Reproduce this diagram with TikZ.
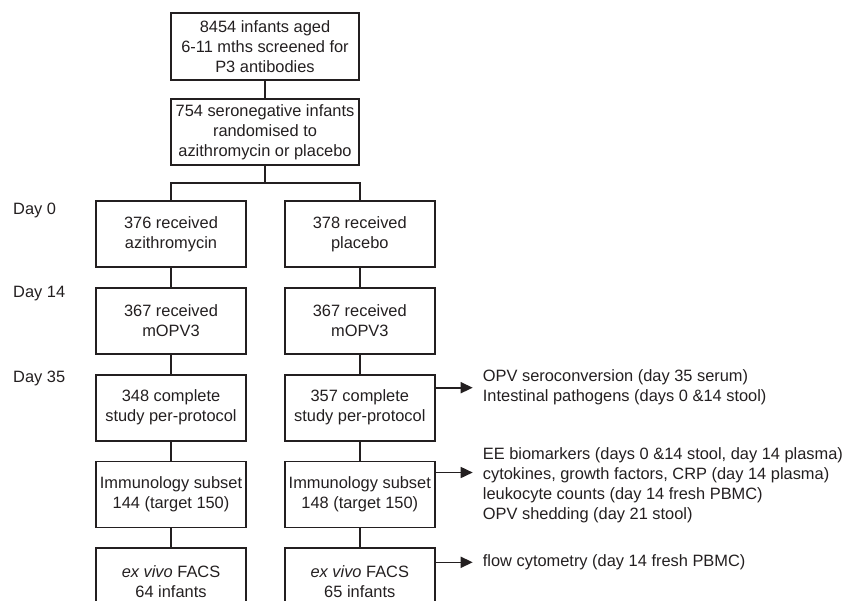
\documentclass[tikz,border=0pt]{standalone}
\usepackage{fontspec}
\setmainfont{Liberation Sans}
\usetikzlibrary{positioning, arrows.meta, calc}
\definecolor{inkgrey}{RGB}{35, 31, 32}

\begin{document}
\begin{tikzpicture}[
    x=1pt, y=-1pt,
    node distance=19pt and 37pt,
    every node/.style={font=\fontsize{16.4}{20}\selectfont, text=inkgrey},
    baseblock/.style={
        rectangle,
        draw=inkgrey,
        line width=1.8pt,
        minimum height=66pt,
        inner sep=1pt,
        align=center
    },
    armblock/.style={baseblock, minimum width=150pt},
    screenblock/.style={baseblock, minimum width=188pt, minimum height=67pt},
    linkstyle/.style={draw=inkgrey, line width=1.6pt},
    arrowstyle/.style={linkstyle, -{Triangle[length=12pt, width=11pt]}},
    daylabel/.style={anchor=west, inner sep=0pt},
    outlabel/.style={inner sep=0pt, align=left}
]

    \useasboundingbox (0,0) rectangle (845,600);

    % --- Screening and randomisation ---

    \node[screenblock] (screen) at (265,46.5) {
        8454 infants aged\\
        6-11 mths screened for\\
        P3 antibodies
    };

    \node[screenblock, minimum height=66pt, below=17pt of screen] (rand) {
        754 seronegative infants\\
        randomised to\\
        azithromycin or placebo
    };

    % --- Azithromycin arm ---

    \node[armblock] (azi0) at (171,234) {
        376 received\\
        azithromycin
    };

    \node[armblock, below=of azi0] (azi14) {
        367 received\\
        mOPV3
    };

    \node[armblock, below=of azi14] (azi35) {
        348 complete\\
        study per-protocol
    };

    \node[armblock, below=of azi35] (aziimm) {
        Immunology subset\\
        144 (target 150)
    };

    \node[armblock, below=of aziimm] (azifacs) {
        \textit{ex vivo} FACS\\
        64 infants
    };

    % --- Placebo arm ---

    \node[armblock, right=of azi0] (pla0) {
        378 received\\
        placebo
    };

    \node[armblock, below=of pla0] (pla14) {
        367 received\\
        mOPV3
    };

    \node[armblock, below=of pla14] (pla35) {
        357 complete\\
        study per-protocol
    };

    \node[armblock, below=of pla35] (plaimm) {
        Immunology subset\\
        148 (target 150)
    };

    \node[armblock, below=of plaimm] (plafacs) {
        \textit{ex vivo} FACS\\
        65 infants
    };

    % Day labels
    \node[daylabel] (day0) at (13,210) {Day 0};
    \node[daylabel] (day14) at (13,294) {Day 14};
    \node[daylabel] (day35) at (13,378) {Day 35};

    % Links
    \coordinate (split) at ($(rand.south)!0.5!(rand.south |- azi0.north)$);
    \draw[linkstyle] (screen) -- (rand);
    \draw[linkstyle] (rand.south) -- (split);
    \draw[linkstyle] (azi0.north) |- (split) -| (pla0.north);

    \draw[linkstyle] (azi0) -- (azi14);
    \draw[linkstyle] (azi14) -- (azi35);
    \draw[linkstyle] (azi35) -- (aziimm);
    \draw[linkstyle] (aziimm) -- (azifacs);

    \draw[linkstyle] (pla0) -- (pla14);
    \draw[linkstyle] (pla14) -- (pla35);
    \draw[linkstyle] (pla35) -- (plaimm);
    \draw[linkstyle] (plaimm) -- (plafacs);

    % --- Outcomes ---

    \coordinate (tip35) at ([xshift=37pt, yshift=-14pt] pla35.north east);
    \coordinate (tipimm) at ([xshift=37pt, yshift=-12pt] plaimm.north east);
    \coordinate (tipfacs) at ([xshift=37pt, yshift=-15pt] plafacs.north east);

    \node[outlabel, right=10pt of tip35] (out35) {
        OPV seroconversion (day 35 serum)\\
        Intestinal pathogens (days 0 \&14 stool)
    };

    \node[outlabel, right=10pt of tipimm, yshift=-13pt] (outimm) {
        EE biomarkers (days 0 \&14 stool, day 14 plasma)\\
        cytokines, growth factors, CRP (day 14 plasma)\\
        leukocyte counts (day 14 fresh PBMC)\\
        OPV shedding (day 21 stool)
    };

    \node[outlabel, right=10pt of tipfacs] (outfacs) {
        flow cytometry (day 14 fresh PBMC)
    };

    % Arrows
    \draw[arrowstyle] (pla35.east |- tip35) -- (tip35);
    \draw[arrowstyle] (plaimm.east |- tipimm) -- (tipimm);
    \draw[arrowstyle] (plafacs.east |- tipfacs) -- (tipfacs);

\end{tikzpicture}
\end{document}
